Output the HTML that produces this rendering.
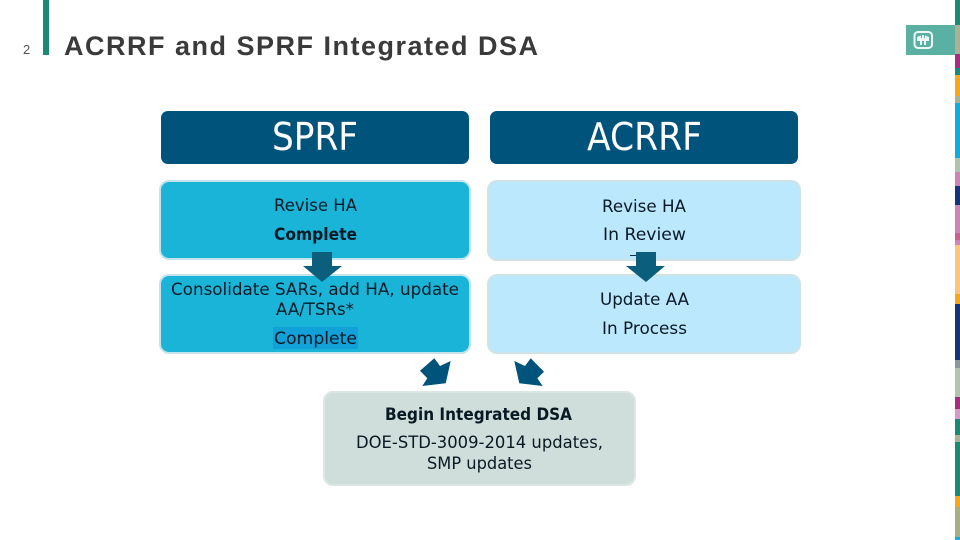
<!DOCTYPE html>
<html>
<head>
<meta charset="utf-8">
<style>
html,body{margin:0;padding:0;background:#fff}
svg{display:block}
.t{font-family:"DejaVu Sans",sans-serif;font-size:17px;fill:#091924;text-anchor:start}
.h{font-family:"DejaVu Sans",sans-serif;font-size:38px;fill:#fff}
</style>
</head>
<body>
<svg width="960" height="540" viewBox="0 0 960 540" xmlns="http://www.w3.org/2000/svg">
<rect width="960" height="540" fill="#fff"/>
<!-- right stripes -->
<g>
<rect x="955" y="0" width="5" height="25" fill="#1a8a74"/>
<rect x="955" y="25" width="5" height="29" fill="#a9b292"/>
<rect x="955" y="54" width="5" height="14" fill="#a62e82"/>
<rect x="955" y="68" width="5" height="7" fill="#1a8a74"/>
<rect x="955" y="75" width="5" height="21" fill="#f5a623"/>
<rect x="955" y="96" width="5" height="7" fill="#a9b292"/>
<rect x="955" y="103" width="5" height="55" fill="#12aedb"/>
<rect x="955" y="158" width="5" height="14" fill="#b0c4ad"/>
<rect x="955" y="172" width="5" height="14" fill="#c987b8"/>
<rect x="955" y="186" width="5" height="19" fill="#15357a"/>
<rect x="955" y="205" width="5" height="28" fill="#c987b8"/>
<rect x="955" y="233" width="5" height="7" fill="#c8648c"/>
<rect x="955" y="240" width="5" height="5" fill="#c987b8"/>
<rect x="955" y="245" width="5" height="49" fill="#f9c57f"/>
<rect x="955" y="294" width="5" height="10" fill="#f5a623"/>
<rect x="955" y="304" width="5" height="56" fill="#15357a"/>
<rect x="955" y="360" width="5" height="8" fill="#8a9a9c"/>
<rect x="955" y="368" width="5" height="29" fill="#b2c4ab"/>
<rect x="955" y="397" width="5" height="12" fill="#a62e82"/>
<rect x="955" y="409" width="5" height="10" fill="#d69ac8"/>
<rect x="955" y="419" width="5" height="16" fill="#1a8a74"/>
<rect x="955" y="435" width="5" height="7" fill="#a9b292"/>
<rect x="955" y="442" width="5" height="54" fill="#1a8a74"/>
<rect x="955" y="496" width="5" height="11" fill="#f5a623"/>
<rect x="955" y="507" width="5" height="30" fill="#a9ad85"/>
<rect x="955" y="537" width="5" height="3" fill="#12aedb"/>
</g>
<!-- logo -->
<rect x="906" y="25" width="49" height="30" fill="#5bb0a4"/>
<rect x="914.500" y="32" width="17.500" height="16" rx="3.500" fill="none" stroke="#eef8f5" stroke-width="2"/>
<path d="M917 37l4-1.500v3l1-1v-2.500h2v2.500l1 1v-3l4 1.500v4h-3v4h-2v-4h-2v4h-2v-4h-3z" fill="#eef8f5"/>
<!-- header -->
<rect x="43" y="0" width="6" height="55" fill="#1a8a74"/>
<text x="23" y="54" font-family="Liberation Sans, sans-serif" font-size="13" fill="#555">2</text>
<text x="64" y="55" font-family="Liberation Sans, sans-serif" font-size="27" font-weight="700" fill="#3a3a3a" textLength="474" lengthAdjust="spacing">ACRRF and SPRF Integrated DSA</text>
<!-- headers -->
<rect x="161" y="111" width="308" height="53" rx="7" fill="#00537a"/>
<rect x="490" y="111" width="308" height="53" rx="7" fill="#00537a"/>
<text class="h" x="272" y="150" textLength="86" lengthAdjust="spacingAndGlyphs">SPRF</text>
<text class="h" x="587" y="150" textLength="115" lengthAdjust="spacingAndGlyphs">ACRRF</text>
<!-- boxes -->
<rect x="160" y="181" width="310" height="78" rx="9" fill="#1ab4d8" stroke="#c4e3ea" stroke-width="2"/>
<rect x="160" y="275" width="310" height="78" rx="9" fill="#1ab4d8" stroke="#c4e3ea" stroke-width="2"/>
<rect x="488" y="181" width="312" height="79" rx="9" fill="#bbe8fd" stroke="#cfe3e6" stroke-width="2"/>
<rect x="488" y="275" width="312" height="78" rx="9" fill="#bbe8fd" stroke="#cfe3e6" stroke-width="2"/>
<rect x="324" y="392" width="311" height="93" rx="9" fill="#cfdeda" stroke="#dbe7e4" stroke-width="2"/>
<rect x="273" y="327" width="85" height="22" fill="#12a0d8"/>
<!-- arrows -->
<polygon points="312,252 332,252 332,266 342,266 322,282 303,266 312,266" fill="#0b5f7c"/>
<polygon points="636,252 656,252 656,266 665,266 646,282 626,266 636,266" fill="#0b5f7c"/>
<rect x="630" y="255" width="6" height="1" fill="#12303c"/>
<polygon points="420,370.700 434.300,358.300 440,366 450.700,361 445.700,383.300 422.300,386 427.300,378.300" fill="#00537a"/>
<polygon points="514.300,361 525,366 530.700,358.300 544,371.700 537.300,378.300 542.700,386 519.300,383.300" fill="#00537a"/>
<!-- text -->
<text class="t" x="274" y="211" textLength="83" lengthAdjust="spacingAndGlyphs">Revise HA</text>
<text class="t" x="274" y="240" textLength="83" lengthAdjust="spacingAndGlyphs" font-weight="700">Complete</text>
<text class="t" x="171" y="295" textLength="288" lengthAdjust="spacingAndGlyphs">Consolidate SARs, add HA, update</text>
<text class="t" x="276" y="315" textLength="78" lengthAdjust="spacingAndGlyphs">AA/TSRs*</text>
<text class="t" x="274" y="344" textLength="83" lengthAdjust="spacingAndGlyphs">Complete</text>
<text class="t" x="602" y="212" textLength="84" lengthAdjust="spacingAndGlyphs">Revise HA</text>
<text class="t" x="603" y="240" textLength="83" lengthAdjust="spacingAndGlyphs">In Review</text>
<text class="t" x="600" y="305" textLength="89" lengthAdjust="spacingAndGlyphs">Update AA</text>
<text class="t" x="602" y="334" textLength="85" lengthAdjust="spacingAndGlyphs">In Process</text>
<text class="t" x="385" y="420" textLength="187" lengthAdjust="spacingAndGlyphs" font-weight="700">Begin Integrated DSA</text>
<text class="t" x="356" y="448" textLength="247" lengthAdjust="spacingAndGlyphs">DOE-STD-3009-2014 updates,</text>
<text class="t" x="427" y="469" textLength="105" lengthAdjust="spacingAndGlyphs">SMP updates</text>
</svg>
</body>
</html>
